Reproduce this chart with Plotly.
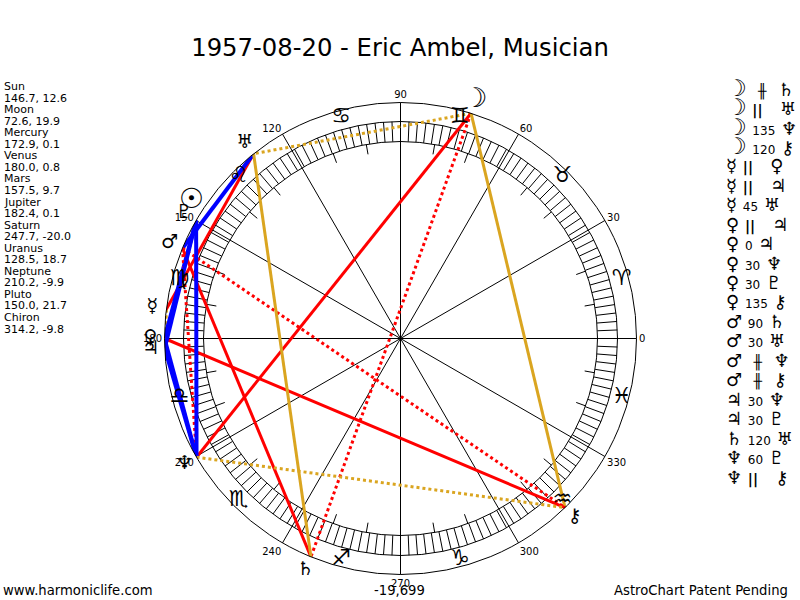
import plotly.graph_objects as go

W = 800
H = 600
CX = 400.5
CY = 338.5
R_OUT = 236
R_GLYPH = 261
FONT = "DejaVu Sans"

## chart data
title = "1957-08-20 - Eric Ambel, Musician"
planets = ["Sun", "Moon", "Mercury", "Venus", "Mars", "Jupiter", "Saturn",
           "Uranus", "Neptune", "Pluto", "Chiron"]
glyphs = ["☉", "☽", "☿", "♀", "♂", "♃", "♄", "♅", "♆", "♇", "⚷"]
longitude = [146.7, 72.6, 172.9, 180.0, 157.5, 182.4, 247.7, 128.5, 210.2, 150.0, 314.2]
declination = [12.6, 19.9, 0.1, 0.8, 9.7, 0.1, -20.0, 18.7, -9.9, 21.7, -9.8]

signs = ["♈", "♉", "♊", "♋", "♌", "♍", "♎", "♏", "♐", "♑", "♒", "♓"]
sign_mid = [15, 45, 75, 105, 135, 165, 195, 225, 255, 285, 315, 345]

degree_ticks = [0, 30, 60, 90, 120, 150, 180, 210, 240, 270, 300, 330]

## aspects, same order as the table on the right. P = parallel, C = contra
asp_from = ["Moon", "Moon", "Moon", "Moon", "Mercury", "Mercury", "Mercury",
            "Venus", "Venus", "Venus", "Venus", "Venus", "Mars", "Mars", "Mars",
            "Mars", "Jupiter", "Jupiter", "Saturn", "Neptune", "Neptune"]
asp_kind = ["C", "P", "135", "120", "P", "P", "45", "P", "0", "30", "30", "135",
            "90", "30", "C", "C", "30", "30", "120", "60", "P"]
asp_to = ["Saturn", "Uranus", "Neptune", "Chiron", "Venus", "Jupiter", "Uranus",
          "Jupiter", "Jupiter", "Neptune", "Pluto", "Chiron", "Saturn", "Uranus",
          "Neptune", "Chiron", "Neptune", "Pluto", "Uranus", "Pluto", "Chiron"]

footer_left = "www.harmoniclife.com"
footer_mid = "-19,699"
footer_right = "AstroChart Patent Pending"

## line look per aspect
RED = "#ff0000"
GOLD = "#daa520"
BLUE = "#0000ff"
asp_style = {"C": (RED, "dot", 3), "P": (GOLD, "dot", 3),
             "45": (RED, "solid", 3), "90": (RED, "solid", 3), "135": (RED, "solid", 3),
             "120": (GOLD, "solid", 3),
             "0": (BLUE, "solid", 4), "30": (BLUE, "solid", 4), "60": (BLUE, "solid", 4)}

lon = dict(zip(planets, longitude))
sym = dict(zip(planets, glyphs))

fig = go.Figure()

## graduations in the band
t = []
r = []
for i in range(160):
    d = i * 2.25
    t += [d, d, None]
    r += [197, 217, None]
fig.add_trace(go.Scatterpolar(theta=t, r=r, mode="lines", line=dict(color="black", width=1)))

## longer marks every 10 degrees
t = []
r = []
for d in range(0, 360, 10):
    if d % 30 != 0:
        t += [d, d, None]
        r += [187, 197, None]
fig.add_trace(go.Scatterpolar(theta=t, r=r, mode="lines", line=dict(color="black", width=1)))

## aspect lines
for a, k, b in zip(asp_from, asp_kind, asp_to):
    col, dash, wid = asp_style[k]
    fig.add_trace(go.Scatterpolar(theta=[lon[a], lon[b]], r=[R_OUT, R_OUT], mode="lines",
                                  line=dict(color=col, dash=dash, width=wid), cliponaxis=False))

## zodiac signs, on the second polar which reaches past the outer circle
fig.add_trace(go.Scatterpolar(theta=sign_mid, r=[229] * 12, mode="text", text=signs, subplot="polar2",
                              textposition="middle center", cliponaxis=False,
                              textfont=dict(family=FONT, size=22, color="black")))

## planet glyphs, sun and moon are drawn bigger
sizes = [28 if p == "Sun" else 27 if p == "Moon" else 19 for p in planets]
fig.add_trace(go.Scatterpolar(theta=longitude, r=[250] * len(planets), mode="text", text=glyphs,
                              subplot="polar2", textposition="middle center", cliponaxis=False,
                              textfont=dict(family=FONT, size=sizes, color="black")))

fig.update_layout(
    width=W, height=H, showlegend=False,
    margin=dict(l=0, r=0, t=0, b=0),
    paper_bgcolor="white", plot_bgcolor="white",
    title=dict(text=title, x=0.5, xanchor="center", y=1 - 47 / H, yanchor="middle",
               font=dict(family=FONT, size=24.3, color="black")),
    polar=dict(
        domain=dict(x=[(CX - R_OUT) / W, (CX + R_OUT) / W],
                    y=[1 - (CY + R_OUT) / H, 1 - (CY - R_OUT) / H]),
        bgcolor="white",
        radialaxis=dict(range=[0, R_OUT], visible=True, showticklabels=False, ticks="",
                        showline=False, tickvals=[197, 217], showgrid=True,
                        gridcolor="black", gridwidth=1),
        angularaxis=dict(tickmode="array", tickvals=degree_ticks,
                         ticktext=[str(d) for d in degree_ticks], direction="counterclockwise",
                         rotation=0, showgrid=True, gridcolor="black", gridwidth=1,
                         showline=True, linecolor="black", linewidth=1, ticks="",
                         tickfont=dict(family=FONT, size=10, color="black")),
    ),
    polar2=dict(
        domain=dict(x=[(CX - R_GLYPH) / W, (CX + R_GLYPH) / W],
                    y=[1 - (CY + R_GLYPH) / H, 1 - (CY - R_GLYPH) / H]),
        bgcolor="rgba(0,0,0,0)",
        radialaxis=dict(range=[0, R_GLYPH], visible=False),
        angularaxis=dict(visible=False, direction="counterclockwise", rotation=0),
    ),
)


def note(text, x, y, size=11, anchor="left"):
    fig.add_annotation(text=text, x=x / W, y=1 - y / H, xref="paper", yref="paper",
                       xanchor=anchor, yanchor="middle", showarrow=False,
                       font=dict(family=FONT, size=size, color="black"))


## left panel, name and position per planet
row = 0
for p, l, d in zip(planets, longitude, declination):
    note(p, 2, 86.5 + row * 11.55)
    note(f"{l:.1f}, {d:.1f}", 2, 86.5 + (row + 1) * 11.55)
    row += 2

## right panel, one row per aspect
NB = "\u00a0"
for i, (a, k, b) in enumerate(zip(asp_from, asp_kind, asp_to)):
    if k == "P":
        mid = f"{NB}<span style='font-size:14px'><b>||</b></span>{NB}{NB}{NB}"
    elif k == "C":
        mid = f"{NB}{NB}<span style='font-size:14px'><b>╫</b></span>{NB}{NB}"
    else:
        mid = f"{NB}<span style='font-size:12px'>{k}</span>{NB}"
    first = f"<span style='font-size:23px'>{sym[a]}</span>" if a == "Moon" else sym[a]
    note(first + mid + sym[b], 724, 88 + i * 19.45, size=18)

note(footer_left, 1, 590, size=13.2)
note(footer_mid, 399, 590, size=13.2, anchor="center")
note(footer_right, 790, 590, size=13.2, anchor="right")

## body margin would push the plot 8px in from the window corner
fig.write_html("out.html", config={"displayModeBar": False},
               post_script="document.body.style.margin = '0';")
